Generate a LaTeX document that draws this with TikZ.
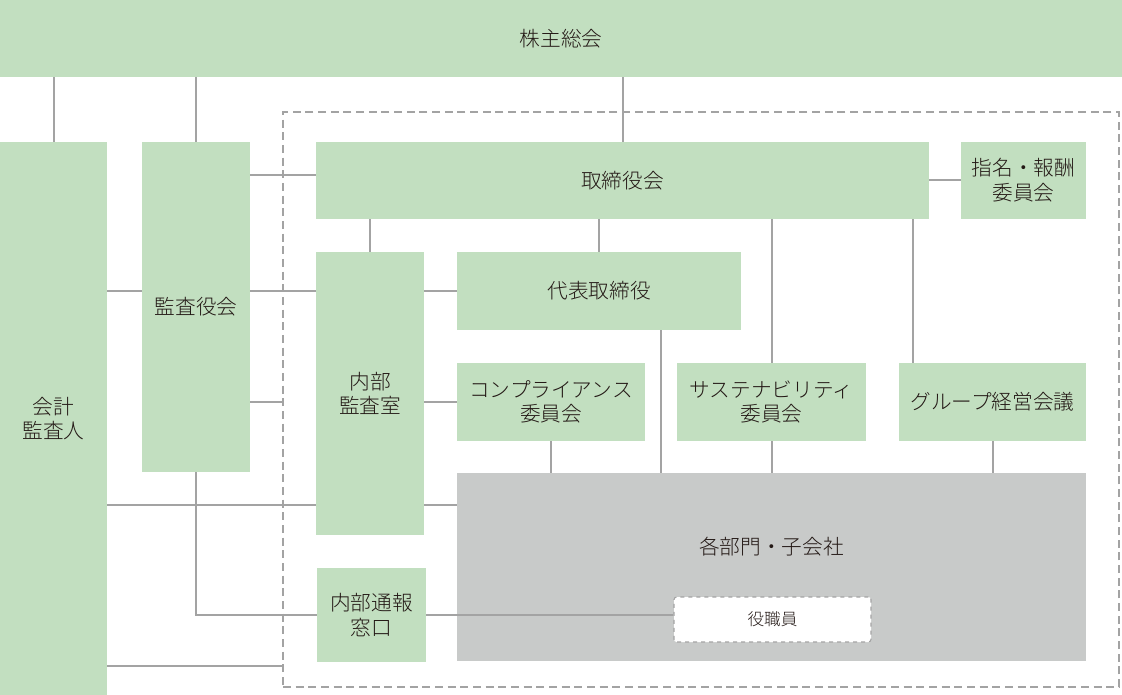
\documentclass[tikz,border=0pt]{standalone}
\usepackage{fontspec}
\setmainfont{Noto Sans CJK JP}[UprightFont=* Light]
\usetikzlibrary{positioning}
\definecolor{boxgreen}{HTML}{C2DFC0}
\definecolor{boxgray}{HTML}{C8CAC9}
\definecolor{linegray}{HTML}{A3A3A3}
\definecolor{txt}{HTML}{231815}

\begin{document}
\begin{tikzpicture}[x=0.75pt,y=-0.75pt,
        every node/.style={font=\fontsize{15.5}{18.5}\selectfont,text=txt},
        blk/.style 2 args={minimum width=#1*0.75pt,minimum height=#2*0.75pt,inner sep=0pt,align=center},
        org/.style={fill=boxgreen},
        link/.style={draw=linegray,line width=1.5pt}]
        \useasboundingbox (0,0) rectangle (1122,695);
        \node[blk={1122}{77},org] (sokai) at (561,38.5) {株主総会};
        \node[blk={107}{553},org] (kaikei) at (53.5,418.5) {会計\\監査人};
        \node[blk={108}{330},org] (kansa) at (196,307) {監査役会};
        \node[blk={836}{575},draw=linegray,line width=1.1pt,dash pattern=on 6pt off 3.5pt] (frame) at (701,399.5) {};
        \node[blk={613}{77},org] (torishimari) at (622.5,180.5) {取締役会};
        \node[blk={125}{77},org] (shimei) at (1023.5,180.5) {指名・報酬\\委員会};
        \node[blk={108}{283},org] (naibu) at (370,393.5) {内部\\監査室};
        \node[blk={284}{78},org] (daihyo) at (599,291) {代表取締役};
        \node[blk={188}{78},org] (comp) at (551,402) {コンプライアンス\\委員会};
        \node[blk={189}{78},org] (sustain) at (771.5,402) {サステナビリティ\\委員会};
        \node[blk={187}{78},org] (group) at (992.5,402) {グループ経営会議};
        \node[blk={629}{188},fill=boxgray,label={[yshift=15pt]center:各部門・子会社}] (bumon) at (771.5,567) {};
        \node[blk={197}{45},fill=white,draw=linegray,line width=0.8pt,dashed,rounded corners=2pt,font=\fontsize{12.5}{15}\selectfont] (yakushoku) at (772.5,619.5) {役職員};
        \node[blk={109}{94},org] (madoguchi) at (371.5,615) {内部通報\\窓口};
        \draw[link] (kaikei.north) -- (kaikei.north |- sokai.south);
        \draw[link] (kansa.north) -- (kansa.north |- sokai.south);
        \draw[link] (torishimari.north) -- (torishimari.north |- sokai.south);
        \draw[link] ([yshift=4pt]torishimari.west) -- ([yshift=4pt]torishimari.west -| kansa.east);
        \draw[link] (kaikei.east |- daihyo.west) -- (kansa.west |- daihyo.west);
        \draw[link] (kansa.east |- daihyo.west) -- (naibu.west |- daihyo.west);
        \draw[link] (naibu.east |- daihyo.west) -- (daihyo.west);
        \draw[link] (kansa.east |- comp.west) -- (frame.west |- comp.west);
        \draw[link] (naibu.east |- comp.west) -- (comp.west);
        \draw[link] (naibu.north) -- (naibu.north |- torishimari.south);
        \draw[link] (daihyo.north) -- (daihyo.north |- torishimari.south);
        \draw[link] (torishimari.east) -- (shimei.west);
        \draw[link] (sustain.north) -- (sustain.north |- torishimari.south);
        \draw[link] ([xshift=11pt]group.north west) -- ([xshift=11pt]group.north west |- torishimari.south);
        \draw[link] ([xshift=-60pt]daihyo.south east) -- ([xshift=-60pt]daihyo.south east |- bumon.north);
        \draw[link] (comp.south) -- (comp.south |- bumon.north);
        \draw[link] (sustain.south) -- (sustain.south |- bumon.north);
        \draw[link] (group.south) -- (group.south |- bumon.north);
        \draw[link] ([yshift=23pt]kaikei.east |- naibu.south) -- ([yshift=23pt]naibu.south west);
        \draw[link] ([yshift=23pt]naibu.south east) -- ([yshift=23pt]naibu.south east -| bumon.west);
        \draw[link] (kansa.south) |- (madoguchi.west);
        \draw[link] (madoguchi.east) -- (madoguchi.east -| yakushoku.west);
        \draw[link] ([yshift=16.5pt]kaikei.east |- frame.south) -- ([yshift=16.5pt]frame.south west);
    \end{tikzpicture}
\end{document}
